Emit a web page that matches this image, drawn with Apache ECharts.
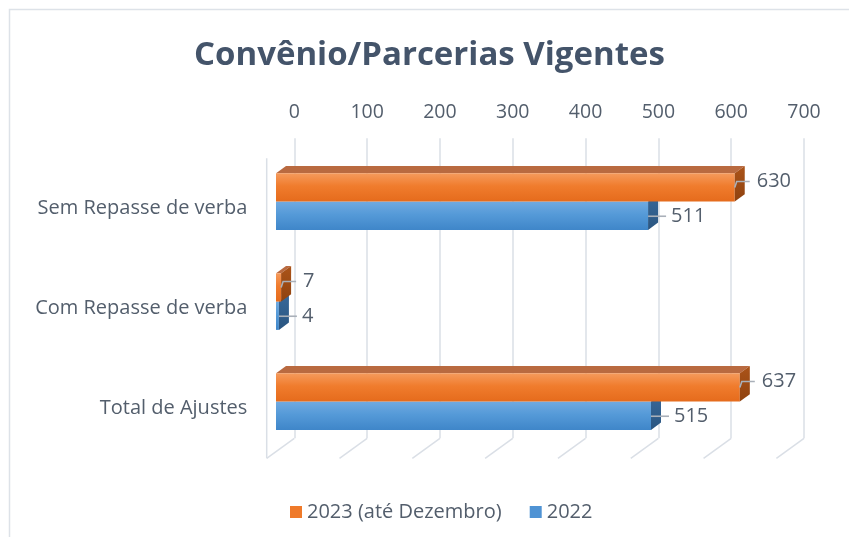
<!DOCTYPE html>
<html>
<head>
<meta charset="utf-8">
<script src="https://cdn.jsdelivr.net/npm/echarts@6/dist/echarts.min.js"></script>
<style>
  html, body { margin: 0; padding: 0; background: #fff; }
  #chart { width: 849px; height: 537px; }
</style>
</head>
<body>
<div id="chart"></div>
<script>
// chart data
const categories = ['Sem Repasse de verba', 'Com Repasse de verba', 'Total de Ajustes'];
const seriesNames = ['2023 (até Dezembro)', '2022'];
const values2023 = [630, 7, 637];
const values2022 = [511, 4, 515];
const xTicks = [0, 100, 200, 300, 400, 500, 600, 700];

// 3d look: offsets from the back wall (px)
const FRONT_DX = -18.3, FRONT_DY = 13.3;
const BACK_DX = -8.3, BACK_DY = 6;
const FLOOR_DX = -27.6, FLOOR_DY = 20;
const textColor = '#535e6c';
const gridColor = '#dadfe6';

const faces = {
  top: {
    front: ['#f59a5c', '#f07c2d', '#e56b1c'],
    lid: '#b96a40',
    side: ['#ab5419', '#8f420f']
  },
  bottom: {
    front: ['#70aae0', '#559ad8', '#3f86c9'],
    lid: '#3f6f9c',
    side: ['#37689a', '#2a5580']
  }
};

function vGrad(cols) {
  return new echarts.graphic.LinearGradient(0, 0, 0, 1, [
    { offset: 0, color: cols[0] },
    { offset: 0.45, color: cols[1] },
    { offset: 1, color: cols[2] }
  ]);
}

function makeBarRender(isTop) {
  const f = isTop ? faces.top : faces.bottom;
  return function (params, api) {
    const val = api.value(0);
    const cat = api.value(1);
    const end = api.coord([val, cat]);
    const start = api.coord([0, cat]);
    const band = api.size([0, 1])[1];
    const h = band * 0.283;
    const cy = end[1];
    const yT = isTop ? cy + FRONT_DY - h : cy + FRONT_DY;
    const yB = yT + h;
    const x0 = start[0] + FRONT_DX;
    const x1 = end[0] + FRONT_DX;
    const ddx = BACK_DX - FRONT_DX, ddy = BACK_DY - FRONT_DY;
    const yc = (yT + yB) / 2;
    const children = [];
    if (isTop) {
      children.push({
        type: 'polygon',
        shape: { points: [[x0, yT], [x0 + ddx, yT + ddy], [x1 + ddx, yT + ddy], [x1, yT]] },
        style: { fill: f.lid }
      });
    }
    children.push({
      type: 'rect',
      shape: { x: x0, y: yT, width: Math.max(x1 - x0, 0.5), height: h },
      style: { fill: vGrad(f.front) }
    });
    children.push({
      type: 'polygon',
      shape: { points: [[x1, yT], [x1 + ddx, yT + ddy], [x1 + ddx, yB + ddy], [x1, yB]] },
      style: {
        fill: new echarts.graphic.LinearGradient(0, 0, 0, 1, [
          { offset: 0, color: f.side[0] }, { offset: 1, color: f.side[1] }
        ])
      }
    });
    // leader line + label
    let ly, pts;
    if (isTop) {
      ly = yc - 6;
      pts = [[x1, yc], [x1 + 2, ly], [x1 + 15, ly]];
    } else {
      ly = yc + 0.5;
      pts = [[x1, ly], [x1 + 18, ly]];
    }
    children.push({
      type: 'polyline',
      shape: { points: pts },
      style: { stroke: '#a9b0b9', lineWidth: 1.6, fill: null }
    });
    children.push({
      type: 'text',
      x: x1 + (isTop ? 22 : 23),
      y: ly,
      style: {
        text: String(val),
        fill: textColor,
        font: '20px "Open Sans"',
        verticalAlign: 'middle',
        align: 'left'
      }
    });
    return { type: 'group', children: children };
  };
}

function floorRender(params, api) {
  const cs = params.coordSys;
  const v = api.value(0);
  const p = api.coord([v, 0]);
  const yb = cs.y + cs.height;
  const children = [{
    type: 'line',
    shape: { x1: p[0], y1: yb, x2: p[0] + FLOOR_DX, y2: yb + FLOOR_DY },
    style: { stroke: gridColor, lineWidth: 1.5 }
  }];
  if (v === 0) {
    children.push({
      type: 'line',
      shape: { x1: p[0] + FLOOR_DX, y1: cs.y + FLOOR_DY, x2: p[0] + FLOOR_DX, y2: yb + FLOOR_DY },
      style: { stroke: gridColor, lineWidth: 1.5 }
    });
  }
  return { type: 'group', children: children };
}

const chart = echarts.init(document.getElementById('chart'), null, { renderer: 'canvas' });

const option = {
  backgroundColor: '#fff',
  animation: false,
  textStyle: { fontFamily: '"Open Sans", sans-serif' },
  graphic: [{
    type: 'rect',
    shape: { x: 9.5, y: 9.5, width: 900, height: 600 },
    style: { fill: null, stroke: '#dde2e8', lineWidth: 1.5 },
    silent: true
  }],
  title: {
    text: 'Convênio/Parcerias Vigentes',
    left: 189,
    top: 34,
    textStyle: { color: '#44546a', fontSize: 33, fontWeight: 'bold', fontFamily: '"Open Sans"' }
  },
  legend: {
    data: seriesNames,
    bottom: 10,
    left: 285,
    icon: 'rect',
    itemWidth: 12,
    itemHeight: 12,
    itemGap: 28,
    textStyle: { color: textColor, fontSize: 20, fontFamily: '"Open Sans"' }
  },
  grid: { left: 294.3, right: 45, top: 138.3, bottom: 98.7 },
  xAxis: {
    type: 'value',
    position: 'top',
    min: 0,
    max: 700,
    interval: 100,
    axisLine: { show: false },
    axisTick: { show: false },
    axisLabel: { color: textColor, fontSize: 19.5, margin: 16 },
    splitLine: { show: true, lineStyle: { color: gridColor, width: 1.5 } }
  },
  yAxis: {
    type: 'category',
    inverse: true,
    data: categories,
    axisLine: { show: false },
    axisTick: { show: false },
    axisLabel: {
      margin: 47,
      formatter: v => '{a|' + v + '}',
      rich: { a: { color: textColor, fontSize: 20, padding: [40, 0, 0, 0] } }
    },
    splitLine: { show: false }
  },
  series: [
    {
      type: 'custom',
      name: 'floor',
      silent: true,
      renderItem: floorRender,
      data: xTicks.map(v => [v, 0]),
      z: 1
    },
    {
      type: 'custom',
      name: seriesNames[1],
      itemStyle: { color: '#4f93d4' },
      renderItem: makeBarRender(false),
      data: values2022.map((v, i) => [v, i]),
      z: 2
    },
    {
      type: 'custom',
      name: seriesNames[0],
      itemStyle: { color: '#ef7a2a' },
      renderItem: makeBarRender(true),
      data: values2023.map((v, i) => [v, i]),
      z: 3
    }
  ]
};

chart.setOption(option);
</script>
</body>
</html>
